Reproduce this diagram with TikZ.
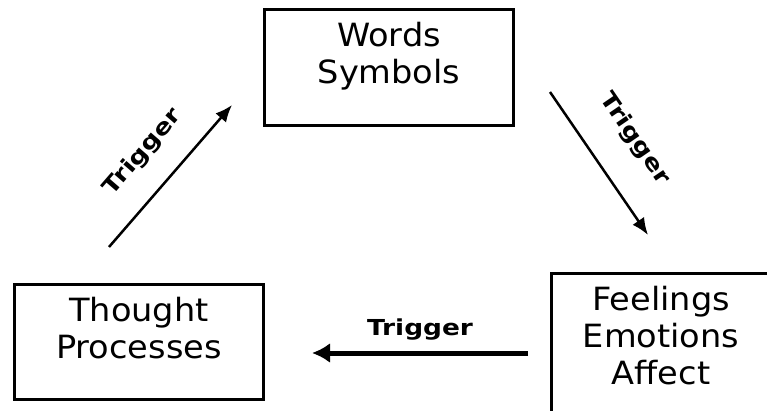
\documentclass[tikz,border=0pt]{standalone}
\usepackage{fontspec}
\usepackage{tikz}
\usetikzlibrary{arrows.meta}
\newfontfamily\boxfont[FakeStretch=1.05]{DejaVu Sans}
\newfontfamily\trigfont[FakeStretch=1.2]{DejaVu Sans}
\tikzstyle{block} = [draw, rectangle, line width=3.5pt, inner sep=0pt]
\tikzstyle{blocktext} = [anchor=north, yshift=-11pt, align=center,
    font=\boxfont\fontsize{32pt}{37pt}\selectfont]
\tikzstyle{line} = [draw, line width=2.5pt, -{Latex[length=17pt,width=14pt]}]
\tikzstyle{trig} = [font=\trigfont\bfseries\fontsize{22pt}{26pt}\selectfont]

\begin{document}
\begin{tikzpicture}[x=1pt, y=1pt]
    \useasboundingbox (0,0) rectangle (767,410);
    \node [block, minimum width=249pt, minimum height=116pt, label={[blocktext]north:Words\\Symbols}] (words) at (389,342.5) {};
    \node [block, minimum width=249pt, minimum height=115pt, label={[blocktext]north:Thought\\Processes}] (thought) at (139,68) {};
    \node [block, minimum width=219pt, minimum height=157pt, label={[blocktext]north:Feelings\\Emotions\\Affect}] (feel) at (661,58) {};
    % arrow ends
    \coordinate (a1) at (109,163);
    \coordinate (a2) at (232,305);
    \coordinate (b1) at (550,318);
    \coordinate (b2) at (648,175);
    \coordinate (c1) at (528,57);
    \coordinate (c2) at (312,57);
    \path [line] (a1) -- node [trig, sloped, above=21pt] {Trigger} (a2);
    \path [line] (b1) -- node [trig, sloped, above=28pt] {Trigger} (b2);
    \path [line, line width=5pt, -{Latex[length=18pt,width=20pt]}] (c1) -- node [trig, above=7pt] {Trigger} (c2);
\end{tikzpicture}
\end{document}
